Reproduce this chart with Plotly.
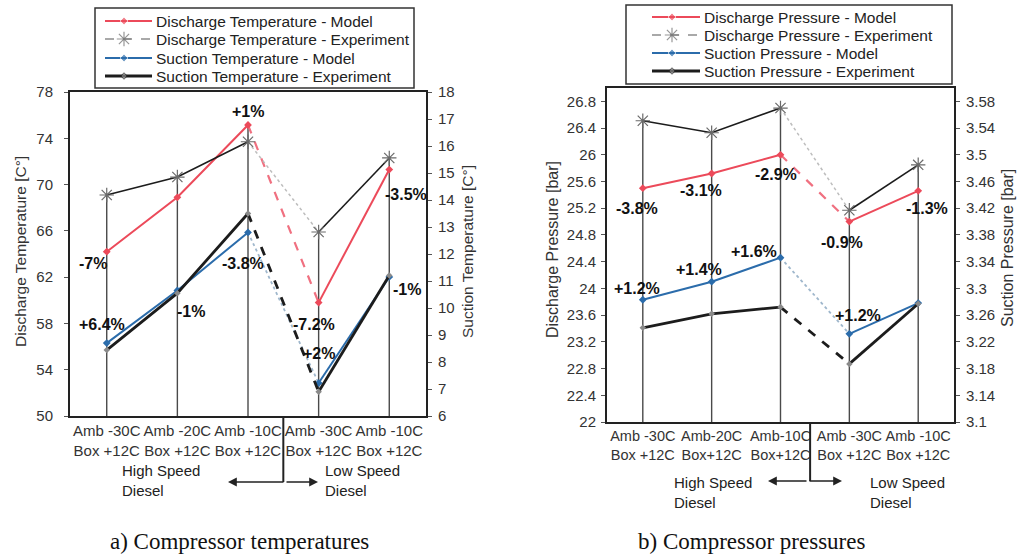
import plotly.graph_objects as go

W, H = 1026, 554

# ---- data ----
categories_temp = ["Amb -30C<br>Box +12C", "Amb -20C<br>Box +12C", "Amb -10C<br>Box +12C",
                   "Amb -30C<br>Box +12C", "Amb -10C<br>Box +12C"]
categories_pres = ["Amb -30C<br>Box +12C", "Amb-20C<br>Box+12C", "Amb-10C<br>Box+12C",
                   "Amb -30C<br>Box +12C", "Amb -10C<br>Box +12C"]

discharge_temp_model = [64.2, 68.9, 75.15, 59.8, 71.3]
discharge_temp_exp = [69.1, 70.65, 73.7, 65.9, 72.3]
suction_temp_model = [8.7, 10.65, 12.8, 7.22, 11.15]
suction_temp_exp = [8.44, 10.55, 13.5, 6.9, 11.2]

discharge_pres_model = [25.50, 25.72, 26.00, 25.00, 25.46]
discharge_pres_exp = [26.51, 26.33, 26.70, 25.17, 25.85]
suction_pres_model = [3.283, 3.310, 3.346, 3.232, 3.278]
suction_pres_exp = [3.241, 3.262, 3.272, 3.187, 3.277]

temp_labels = ["-7%", "+6.4%", "-1%", "+1%", "-3.8%", "-7.2%", "+2%", "-3.5%", "-1%"]
pres_labels = ["-3.8%", "+1.2%", "-3.1%", "+1.4%", "-2.9%", "+1.6%", "-0.9%", "+1.2%", "-1.3%"]

temp_series_names = ["Discharge Temperature - Model", "Discharge Temperature - Experiment",
                     "Suction Temperature - Model", "Suction Temperature - Experiment"]
pres_series_names = ["Discharge Pressure - Model", "Discharge Pressure - Experiment",
                     "Suction Pressure - Model", "Suction Pressure - Experiment"]

# ---- styling / placement ----
FONT = "Liberation Sans, Arial, sans-serif"
TEMP_RANGE = (50, 78)
SUCT_T_RANGE = (6, 18)
PRES_RANGE = (22, 27)
SUCT_P_RANGE = (3.1, 3.6)
X_RANGE = [-0.52, 4.52]

RED = "#ec4a5a"
RED_DASH = "#f07080"
BLUE = "#2b6cab"
BLUE_DASH = "#9fb7cc"
BLACK = "#1c1c1c"
GREY_DASH = "#bdbdbd"

temp_label_pos = [(-0.2, 63.2), (-0.07, 57.9), (1.2, 59.0), (2.0, 76.3), (1.93, 63.2),
                  (2.94, 57.9), (3.0, 55.4), (4.23, 69.1), (4.25, 60.9)]
pres_label_pos = [(-0.09, 25.2), (-0.09, 24.0), (0.85, 25.47), (0.82, 24.28), (1.93, 25.7),
                  (1.61, 24.55), (2.89, 24.68), (3.12, 23.6), (4.13, 25.2)]


def px_x(p):
    return p / W


def px_y(p):
    return 1 - p / H


fig = go.Figure()
xs = list(range(5))

model_marker = lambda c: dict(symbol="diamond", size=6, color=c)
star_marker = dict(symbol="asterisk-open", size=12, color="#6a6a6a",
                   line=dict(color="#6a6a6a", width=1.2))
suct_marker = dict(symbol="diamond", size=5, color="#8a8a8a")

# per-series style: (line colour, width, marker, link colour, link dash, link width)
styles = [
    (RED, 2, model_marker(RED), RED_DASH, "dash", 2.2),
    (BLACK, 1.6, star_marker, GREY_DASH, "dot", 1.5),
    (BLUE, 2, model_marker(BLUE), BLUE_DASH, "dot", 1.8),
    (BLACK, 2.8, suct_marker, BLACK, "dash", 2.8),
]


def add_drop_lines(top_a, top_b, floor, xa, ya):
    dx, dy = [], []
    for k in xs:
        dx += [k, k, None]
        dy += [max(top_a[k], top_b[k]), floor, None]
    fig.add_trace(go.Scatter(x=dx, y=dy, xaxis=xa, yaxis=ya, mode="lines",
                             line=dict(color="#4a4a4a", width=1.4),
                             hoverinfo="skip", showlegend=False))


def add_series(vals, xa, ya, name, style):
    color, width, marker, dash_color, dash, dash_width = style
    fig.add_trace(go.Scatter(x=xs[2:4], y=vals[2:4], xaxis=xa, yaxis=ya, mode="lines",
                             line=dict(color=dash_color, width=dash_width, dash=dash),
                             name=name, showlegend=False))
    for seg in (slice(0, 3), slice(3, 5)):
        fig.add_trace(go.Scatter(x=xs[seg], y=vals[seg], xaxis=xa, yaxis=ya,
                                 mode="lines+markers", line=dict(color=color, width=width),
                                 marker=marker, name=name, showlegend=False))


# temperatures
add_drop_lines(discharge_temp_model, discharge_temp_exp, TEMP_RANGE[0], "x", "y")
for vals, ya, name, st in zip(
        [discharge_temp_model, discharge_temp_exp, suction_temp_model, suction_temp_exp],
        ["y", "y", "y2", "y2"], temp_series_names, styles):
    add_series(vals, "x", ya, name, st)

# pressures
add_drop_lines(discharge_pres_model, discharge_pres_exp, PRES_RANGE[0], "x2", "y3")
for vals, ya, name, st in zip(
        [discharge_pres_model, discharge_pres_exp, suction_pres_model, suction_pres_exp],
        ["y3", "y3", "y4", "y4"], pres_series_names, styles):
    add_series(vals, "x2", ya, name, st)

# ---- key boxes, drawn on a pixel-scaled overlay axis ----
legend_styles = [
    dict(line=dict(color=RED, width=2), marker=model_marker(RED)),
    dict(line=dict(color="#555555", width=1.2, dash="dash"), marker=star_marker),
    dict(line=dict(color=BLUE, width=2), marker=model_marker(BLUE)),
    dict(line=dict(color=BLACK, width=3), marker=suct_marker),
]
legend_font = dict(family=FONT, size=15.5, color="#222222")


def add_key(names, box, rows, x0, xm, x1):
    annotations_k = []
    for nm, yr, st in zip(names, rows, legend_styles):
        mk = dict(st["marker"])
        mk["size"] = [0, st["marker"]["size"], 0]
        fig.add_trace(go.Scatter(x=[x0, xm, x1], y=[yr, yr, yr], xaxis="x3", yaxis="y5",
                                 mode="lines+markers", line=st["line"], marker=mk,
                                 name=nm, showlegend=False, hoverinfo="skip"))
        annotations_k.append(dict(x=x1 + 2, y=yr, xref="x3", yref="y5", text=nm,
                                  xanchor="left", yanchor="middle", showarrow=False,
                                  font=legend_font))
    fig.add_shape(type="rect", xref="x3", yref="y5", x0=box[0], x1=box[1], y0=box[2], y1=box[3],
                  line=dict(color="#333333", width=1.5))
    return annotations_k


key_annotations = []
key_annotations += add_key(temp_series_names, (95, 414, 8, 88), [21, 39, 58, 76], 105, 124, 152)
key_annotations += add_key(pres_series_names, (626, 952, 5, 84), [17, 35, 53, 71], 652, 672, 700)

tick_font = dict(family=FONT, size=15, color="#333333")
axis_common = dict(showgrid=False, zeroline=False, showline=True, linecolor="#222222",
                   linewidth=2, ticks="outside", ticklen=4, tickcolor="#555555",
                   tickfont=tick_font, automargin=False, fixedrange=True)

x_common = dict(showgrid=False, zeroline=False, showline=True, mirror=True,
                linecolor="#222222", linewidth=2, ticks="", range=X_RANGE, automargin=False,
                tickvals=xs, tickangle=0, fixedrange=True)

fig.update_layout(
    width=W, height=H,
    margin=dict(l=0, r=0, t=0, b=0, pad=0, autoexpand=False),
    paper_bgcolor="white", plot_bgcolor="rgba(0,0,0,0)",
    font=dict(family=FONT, color="#222222"),
    showlegend=False,
    xaxis=dict(domain=[px_x(70), px_x(426)], anchor="y", ticktext=categories_temp,
               tickfont=dict(family=FONT, size=15, color="#333333"), **x_common),
    yaxis=dict(domain=[px_y(416), px_y(92)], anchor="x", range=list(TEMP_RANGE), dtick=4,
               tick0=50, ticklabelstandoff=8, **axis_common),
    yaxis2=dict(overlaying="y", side="right", anchor="x", range=list(SUCT_T_RANGE), dtick=1,
                tick0=6, ticklabelstandoff=3, **axis_common),
    xaxis2=dict(domain=[px_x(607), px_x(954)], anchor="y3", ticktext=categories_pres,
                tickfont=dict(family=FONT, size=14.5, color="#333333"), **x_common),
    yaxis3=dict(domain=[px_y(422), px_y(88)], anchor="x2", range=list(PRES_RANGE), dtick=0.4,
                tick0=22, ticklabelstandoff=2, **axis_common),
    yaxis4=dict(overlaying="y3", side="right", anchor="x2", range=list(SUCT_P_RANGE),
                dtick=0.04, tick0=3.1, ticklabelstandoff=3, **axis_common),
    xaxis3=dict(domain=[0, 1], anchor="y5", range=[0, W], visible=False, fixedrange=True),
    yaxis5=dict(domain=[0, 1], anchor="x3", range=[H, 0], visible=False, fixedrange=True),
)

annotations = list(key_annotations)
pct_font = dict(family=FONT, size=16, color="#111111", weight="bold")
for txt, (ax_, ay_) in zip(temp_labels, temp_label_pos):
    annotations.append(dict(x=ax_, y=ay_, xref="x", yref="y", text=txt, showarrow=False,
                            xanchor="center", yanchor="middle", font=pct_font))
for txt, (ax_, ay_) in zip(pres_labels, pres_label_pos):
    annotations.append(dict(x=ax_, y=ay_, xref="x2", yref="y3", text=txt, showarrow=False,
                            xanchor="center", yanchor="middle", font=pct_font))

for txt, xp, yp, fs in [("Discharge Temperature [C°]", 20, 252, 15.5),
                        ("Suction Temperature [C°]", 467, 252, 15.5),
                        ("Discharge Pressure [bar]", 553, 250, 16),
                        ("Suction Pressure [bar]", 1008, 248, 16)]:
    annotations.append(dict(x=px_x(xp), y=px_y(yp), xref="paper", yref="paper", text=txt,
                            textangle=-90, showarrow=False, xanchor="center", yanchor="middle",
                            font=dict(family=FONT, size=fs, color="#333333")))

group_font = dict(family=FONT, size=15, color="#222222")
for txt, xp, yp in [("High Speed<br>Diesel", 120, 480), ("Low Speed<br>Diesel", 323, 480),
                    ("High Speed<br>Diesel", 672, 492), ("Low Speed<br>Diesel", 868, 492)]:
    annotations.append(dict(x=px_x(xp), y=px_y(yp), xref="paper", yref="paper", text=txt,
                            xanchor="left", yanchor="middle", align="left", showarrow=False,
                            font=group_font))

# arrows pointing to the two speed groups
for tip, tail, yp in [(228, 285, 482), (318, 285, 482), (768, 808, 481), (842, 808, 481)]:
    annotations.append(dict(x=px_x(tip), y=px_y(yp), xref="paper", yref="paper", text="",
                            showarrow=True, arrowhead=2, arrowsize=1.1, arrowwidth=1.6,
                            arrowcolor="#222222", ax=tail - tip, ay=0))

cap_font = dict(family="Liberation Serif, Times New Roman, serif", size=23, color="#111111")
for txt, xp in [("a) Compressor temperatures", 239), ("b) Compressor pressures", 751)]:
    annotations.append(dict(x=px_x(xp), y=px_y(541), xref="paper", yref="paper", text=txt,
                            xanchor="center", yanchor="middle", showarrow=False, font=cap_font))

fig.update_layout(annotations=annotations)

# divider between the high and low speed groups
fig.add_shape(type="line", xref="x", yref="paper", x0=2.5, x1=2.5, y0=px_y(416), y1=px_y(482),
              line=dict(color="#222222", width=2))
fig.add_shape(type="line", xref="x2", yref="paper", x0=2.43, x1=2.43, y0=px_y(422), y1=px_y(481),
              line=dict(color="#222222", width=2))

fig.write_html("out.html")
